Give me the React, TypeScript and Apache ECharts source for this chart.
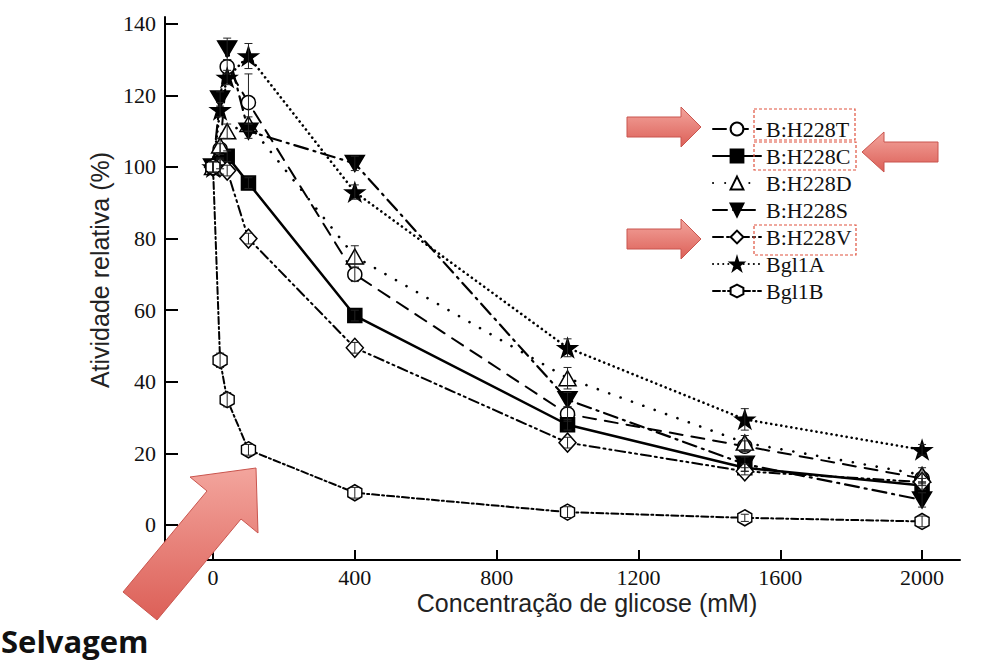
import React, { useEffect, useRef } from "react";
import * as echarts from "echarts";

// ---- data ----
const conc = [0, 20, 40, 100, 400, 1000, 1500, 2000];
const seriesNames = ["B:H228T", "B:H228C", "B:H228D", "B:H228S", "B:H228V", "Bgl1A", "Bgl1B"];
const h228T = [100, 105, 128, 118, 70, 31, 22, 13];
const h228C = [100, 101, 103, 95.5, 58.5, 28, 16, 11];
const h228D = [100, 106, 110, 112, 75, 41, 23, 14];
const h228S = [100, 119, 133, 110, 101, 35, 17, 7];
const h228V = [100, 100, 99, 80, 49.5, 23, 15, 12];
const bgl1A = [100, 116, 125, 131, 93, 49.5, 29.5, 21];
const bgl1B = [100, 46, 35, 21, 9, 3.6, 2, 1];
const errT = [1.5, 1.5, 2, 8, 2, 2, 1.5, 1.5];
const errC = [1.5, 1.5, 1.5, 1.5, 1.5, 1.5, 1, 1];
const errD = [1.5, 2, 2, 2, 3, 3, 2, 2];
const errS = [1.5, 2, 3, 2, 2, 2, 2, 2];
const errV = [1.5, 2, 1.5, 1.5, 1.5, 1.5, 1, 1];
const errA = [1.5, 2, 2, 3.5, 2, 2.5, 3, 1.5];
const errB = [1.5, 2, 2, 1.5, 1.5, 1.5, 1, 1.5];
const xTicks = [0, 400, 800, 1200, 1600, 2000];
const yTicks = [0, 20, 40, 60, 80, 100, 120, 140];

const SERIF = "Liberation Serif";
const STAR = "path://M50,0 L61,35 L98,35 L68,57 L79,91 L50,70 L21,91 L32,57 L2,35 L39,35 Z";
const DOWN = "path://M0,0 L20,0 L10,17 Z";
const HEX = "path://M43,0 L86,25 L86,75 L43,100 L0,75 L0,25 Z";

const seriesDefs = [
  { name: seriesNames[0], values: h228T, err: errT, symbol: "circle", size: 14, open: true, dash: [13, 9] as any, width: 2 },
  { name: seriesNames[1], values: h228C, err: errC, symbol: "rect", size: 14, open: false, dash: "solid" as any, width: 2.5 },
  { name: seriesNames[2], values: h228D, err: errD, symbol: "triangle", size: [17, 15], open: true, dash: [0.1, 12] as any, width: 2.6 },
  { name: seriesNames[3], values: h228S, err: errS, symbol: DOWN, size: [19, 16], open: false, dash: [14, 6, 2, 6] as any, width: 2.2 },
  { name: seriesNames[4], values: h228V, err: errV, symbol: "diamond", size: [17, 19], open: true, dash: [10, 4, 2, 4, 2, 4] as any, width: 2 },
  { name: seriesNames[5], values: bgl1A, err: errA, symbol: STAR, size: [19, 18], open: false, dash: [0.1, 5] as any, width: 2.6 },
  { name: seriesNames[6], values: bgl1B, err: errB, symbol: HEX, size: [14, 16], open: true, dash: [7, 3, 2, 3] as any, width: 2 },
];

const tickRich = { t: { fontFamily: SERIF, fontSize: 22, color: "#111" } };

export default function App() {
  const ref = useRef<HTMLDivElement>(null);
  useEffect(() => {
    if (!ref.current) return;
    const chart = echarts.init(ref.current, null, { renderer: "svg", width: 988, height: 664 });

    const lineSeries = seriesDefs.map((d) => ({
      type: "line",
      name: d.name,
      data: conc.map((x, i) => [x, d.values[i]]),
      symbol: d.symbol,
      symbolSize: d.size,
      showAllSymbol: true,
      lineStyle: { color: "#000", width: d.width, type: d.dash, cap: "round" },
      itemStyle: { color: d.open ? "#fff" : "#000", borderColor: "#000", borderWidth: 1.5 },
      emphasis: { disabled: true },
      z: 2,
    }));

    const errData: number[][] = [];
    seriesDefs.forEach((d) => {
      conc.forEach((x, i) => errData.push([x, d.values[i], d.err[i]]));
    });

    const errSeries = {
      type: "custom",
      name: "err",
      data: errData,
      encode: { x: 0, y: 1 },
      z: 5,
      silent: true,
      renderItem: (_p: any, api: any) => {
        const x = api.value(0);
        const y = api.value(1);
        const e = api.value(2);
        const top = api.coord([x, y + e]);
        const bot = api.coord([x, y - e]);
        const cw = 4;
        const st = { stroke: "#222", lineWidth: 1 };
        return {
          type: "group",
          children: [
            { type: "line", shape: { x1: top[0], y1: top[1], x2: bot[0], y2: bot[1] }, style: st },
            { type: "line", shape: { x1: top[0] - cw, y1: top[1], x2: top[0] + cw, y2: top[1] }, style: st },
            { type: "line", shape: { x1: bot[0] - cw, y1: bot[1], x2: bot[0] + cw, y2: bot[1] }, style: st },
          ],
        };
      },
    };

    const grad = () =>
      new echarts.graphic.LinearGradient(0, 0, 0, 1, [
        { offset: 0, color: "#f3a59d" },
        { offset: 1, color: "#dc5f57" },
      ]);
    const arrowStyle = () => ({ fill: grad(), stroke: "#c9554e", lineWidth: 1 });
    const boxStyle = { fill: "none", stroke: "#e0533f", lineWidth: 1.2, lineDash: [3, 2] };

    chart.setOption({
      animation: false,
      backgroundColor: "#fff",
      textStyle: { fontFamily: SERIF },
      grid: { left: 165, top: 17, right: 28, bottom: 104, containLabel: false },
      xAxis: {
        type: "value",
        min: -135.4,
        max: 2107,
        axisLine: { onZero: false, lineStyle: { color: "#000", width: 2 } },
        axisTick: { show: true, inside: true, length: 10, customValues: xTicks, lineStyle: { color: "#000", width: 2 } },
        axisLabel: {
          customValues: xTicks,
          formatter: (v: number) => "{t|" + String(v) + "}",
          rich: tickRich,
          fontFamily: SERIF,
          fontSize: 22,
          color: "#111",
          margin: 6,
        },
        splitLine: { show: false },
      },
      yAxis: {
        type: "value",
        min: -9.78,
        max: 141.9,
        axisLine: { show: true, onZero: false, lineStyle: { color: "#000", width: 2 } },
        axisTick: { show: true, inside: true, length: 13, customValues: yTicks, lineStyle: { color: "#000", width: 2 } },
        axisLabel: {
          customValues: yTicks,
          formatter: (v: number) => "{t|" + String(v) + "}",
          rich: tickRich,
          fontFamily: SERIF,
          fontSize: 22,
          color: "#111",
          margin: 9,
        },
        splitLine: { show: false },
      },
      legend: {
        orient: "vertical",
        left: 707,
        top: 113,
        itemWidth: 48,
        itemHeight: 16,
        itemGap: 5,
        selectedMode: false,
        data: seriesNames,
        textStyle: { fontFamily: SERIF, fontSize: 22, color: "#111", lineHeight: 22 },
      },
      series: [...lineSeries, errSeries],
      graphic: [
        {
          type: "text",
          x: 100,
          y: 270,
          rotation: Math.PI / 2,
          style: {
            text: "Atividade relativa (%)",
            fontFamily: "Liberation Sans",
            fontSize: 25,
            fill: "#222",
            textAlign: "center",
            textVerticalAlign: "middle",
          },
        },
        {
          type: "text",
          x: 587,
          y: 603,
          style: {
            text: "Concentração de glicose (mM)",
            fontFamily: "Liberation Sans",
            fontSize: 25,
            fill: "#222",
            textAlign: "center",
            textVerticalAlign: "middle",
          },
        },
        {
          type: "text",
          x: 1,
          y: 641,
          style: {
            text: "Selvagem",
            fontFamily: "Open Sans",
            fontWeight: "bold",
            fontSize: 31,
            fill: "#111",
            textAlign: "left",
            textVerticalAlign: "middle",
          },
        },
        { type: "rect", shape: { x: 754, y: 109, width: 101, height: 31 }, style: boxStyle, z: 10 },
        { type: "rect", shape: { x: 754, y: 142, width: 102, height: 28 }, style: boxStyle, z: 10 },
        { type: "rect", shape: { x: 754, y: 225, width: 102, height: 30 }, style: boxStyle, z: 10 },
        {
          type: "polygon",
          shape: { points: [[627, 117], [681, 117], [681, 107], [701, 127], [681, 147], [681, 137], [627, 137]] },
          style: arrowStyle(),
          z: 10,
        },
        {
          type: "polygon",
          shape: { points: [[938, 142], [884, 142], [884, 132], [862, 152], [884, 172], [884, 162], [938, 162]] },
          style: arrowStyle(),
          z: 10,
        },
        {
          type: "polygon",
          shape: { points: [[627, 229], [681, 229], [681, 219], [701, 239], [681, 259], [681, 249], [627, 249]] },
          style: arrowStyle(),
          z: 10,
        },
        {
          type: "polygon",
          shape: { points: [[123, 592], [207, 491], [190, 477], [256, 468], [258, 533], [241, 519], [157, 620]] },
          style: arrowStyle(),
          z: 10,
        },
      ],
    });
    return () => chart.dispose();
  }, []);
  return <div ref={ref} style={{ position: "fixed", left: 0, top: 0, width: 988, height: 664 }} />;
}
